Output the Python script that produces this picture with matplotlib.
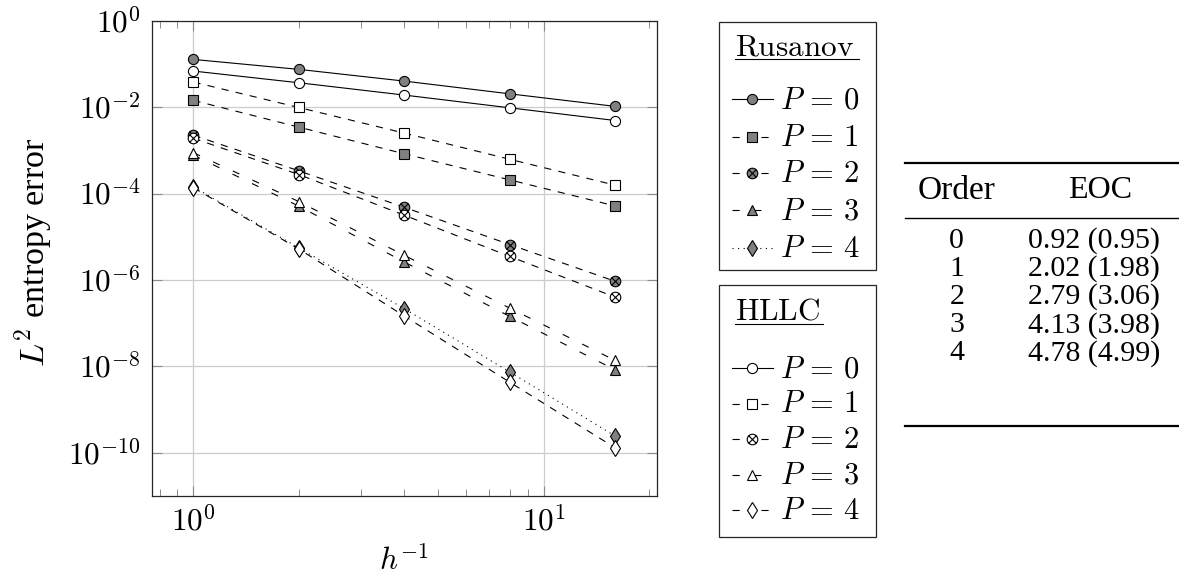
import numpy as np
import matplotlib
matplotlib.use("Agg")
import matplotlib.pyplot as plt
from matplotlib.path import Path
from matplotlib.ticker import FuncFormatter, LogLocator, NullLocator
from matplotlib.patches import Rectangle

plt.rcParams["font.family"] = ["Liberation Serif", "DejaVu Serif"]
plt.rcParams["mathtext.fontset"] = "cm"
plt.rcParams["lines.scale_dashes"] = False

# ---------------- data ----------------
h_inv = [1, 2, 4, 8, 16]

rusanov_p0 = [0.127, 0.0747, 0.040, 0.0203, 0.0104]
rusanov_p1 = [0.0143, 3.44e-3, 8.3e-4, 2.07e-4, 5.16e-5]
rusanov_p2 = [2.24e-3, 3.35e-4, 4.8e-5, 6.6e-6, 9.3e-7]
rusanov_p3 = [7.7e-4, 5.1e-5, 2.6e-6, 1.43e-7, 8.3e-9]
rusanov_p4 = [1.42e-4, 5.5e-6, 2.16e-7, 7.4e-9, 2.43e-10]

hllc_p0 = [0.0683, 0.0366, 0.019, 0.00963, 0.0049]
hllc_p1 = [0.038, 9.8e-3, 2.5e-3, 6.2e-4, 1.56e-4]
hllc_p2 = [1.9e-3, 2.75e-4, 3.15e-5, 3.5e-6, 4.0e-7]
hllc_p3 = [8.8e-4, 6.5e-5, 3.7e-6, 2.23e-7, 1.37e-8]
hllc_p4 = [1.36e-4, 5.2e-6, 1.46e-7, 4.3e-9, 1.3e-10]

series_labels = [r"$P\,=\,0$", r"$P\,=\,1$", r"$P\,=\,2$", r"$P\,=\,3$", r"$P\,=\,4$"]

y_ticks = [1e0, 1e-2, 1e-4, 1e-6, 1e-8, 1e-10]
y_limits = (1e-11, 1e0)
x_limits = (0.76, 21.1)

table_orders = ["0", "1", "2", "3", "4"]
table_eoc = ["0.92 (0.95)", "2.02 (1.98)", "2.79 (3.06)", "4.13 (3.98)", "4.78 (4.99)"]

# ---------------- styles ----------------
r = np.sqrt(0.5)
otimes = Path.make_compound_path(
    Path.unit_circle(),
    Path([(-r, -r), (r, r), (-r, r), (r, -r)],
         [Path.MOVETO, Path.LINETO, Path.MOVETO, Path.LINETO]),
)

GRAY = "0.5"
LW = 0.8
dashed = dict(linestyle=(0, (5.2, 5.2)))
loose = dict(linestyle=(0, (5.2, 10.4)))
dotted = dict(linestyle=(0, (0.8, 3.2)))
solid = dict(linestyle="-")

markers = [
    dict(marker="o", markersize=7.3),
    dict(marker="s", markersize=6.8),
    dict(marker=otimes, markersize=7.6),
    dict(marker="^", markersize=6.5),
    dict(marker="d", markersize=7.8),
]
rus_lines = [solid, dashed, dashed, loose, dotted]
hllc_lines = [solid, dashed, dashed, loose, dashed]


def style(i, filled, lines):
    st = dict(color="black", linewidth=LW, markeredgecolor="black",
              markeredgewidth=0.8, markerfacecolor=GRAY if filled else "white")
    st.update(markers[i])
    st.update(lines[i])
    return st


rus_styles = [style(i, True, rus_lines) for i in range(5)]
hllc_styles = [style(i, False, hllc_lines) for i in range(5)]

W, H = 1179, 586
fig = plt.figure(figsize=(W / 100, H / 100), dpi=100)
ax = fig.add_axes([151.7 / W, 1 - 496 / H, (657.3 - 151.7) / W, (496 - 20.7) / H])

for ys, st in zip([rusanov_p0, rusanov_p1, rusanov_p2, rusanov_p3, rusanov_p4], rus_styles):
    ax.plot(h_inv, ys, **st, zorder=3)
for ys, st in zip([hllc_p0, hllc_p1, hllc_p2, hllc_p3, hllc_p4], hllc_styles):
    ax.plot(h_inv, ys, **st, zorder=4)

ax.set_xscale("log")
ax.set_yscale("log")
ax.set_xlim(*x_limits)
ax.set_ylim(*y_limits)
ax.set_yticks(y_ticks)
ax.yaxis.set_minor_locator(NullLocator())
ax.xaxis.set_major_locator(LogLocator(base=10))
ax.xaxis.set_minor_locator(LogLocator(base=10, subs=np.arange(2, 10)))
fmt = FuncFormatter(lambda v, p: r"$10^{%d}$" % int(round(np.log10(v))))
ax.xaxis.set_major_formatter(fmt)
ax.yaxis.set_major_formatter(fmt)
ax.xaxis.set_minor_formatter(FuncFormatter(lambda v, p: ""))

ax.grid(True, which="major", color="0.8", linewidth=0.9)
ax.set_axisbelow(True)
ax.tick_params(which="both", direction="in", top=True, right=True, color="0.55",
               labelsize=22.5)
ax.tick_params(which="major", length=7, width=0.8, pad=8)
ax.tick_params(which="minor", length=5, width=0.7)
for s in ax.spines.values():
    s.set_linewidth(0.9)
    s.set_color("0.15")

ax.set_ylabel(r"$L^2$ entropy error", fontsize=24.5, va="center")
ax.yaxis.set_label_coords((33.5 - 151.7) / 505.6, (496 - 252) / 475.3)
ax.set_xlabel(r"$h^{-1}$", fontsize=22.5, va="center")
ax.xaxis.set_label_coords(0.5, (496 - 562) / 475.3)

# ---------------- overlay in pixel coordinates ----------------
ov = fig.add_axes([0, 0, 1, 1])
ov.set_xlim(0, W)
ov.set_ylim(H, 0)
ov.axis("off")


def legend_box(x0, y0, x1, y1, title, title_base, ul_x1, rows, styles):
    ov.add_patch(Rectangle((x0, y0), x1 - x0, y1 - y0, fill=False,
                           edgecolor="0.15", linewidth=0.9))
    ov.text(x0 + 16, y0 + title_base, r"$\mathrm{%s}$" % title, fontsize=22.5,
            ha="left", va="baseline")
    ov.plot([x0 + 16, x0 + ul_x1], [y0 + title_base + 4] * 2, color="black", lw=0.8)
    for lab, st, yy in zip(series_labels, styles, rows):
        ov.plot([x0 + 13, x0 + 32.5, x0 + 54], [y0 + yy] * 3, markevery=[1], **st)
        ov.text(x0 + 61, y0 + yy + 9, lab, fontsize=22, ha="left", va="baseline")


legend_box(719, 21.5, 875.5, 270, "Rusanov", 33.5, 139.5,
           [77.8, 115.8, 151.8, 188.5, 226.8], rus_styles)
legend_box(719, 285, 875.5, 536.5, "HLLC", 35, 104,
           [83, 118.5, 154, 189.5, 225], hllc_styles)

# ---------------- EOC table ----------------
tx0, tx1 = 905, 1179
ov.plot([tx0, tx1], [162.7, 162.7], color="black", lw=1.6)
ov.plot([tx0, tx1], [217.7, 217.7], color="black", lw=1.0)
ov.plot([tx0, tx1], [426, 426], color="black", lw=1.6)
ov.text(956.7, 191, "Order", fontsize=24, ha="center", va="center")
ov.text(1100, 191, "EOC", fontsize=23, ha="center", va="center")
for i, (o, e) in enumerate(zip(table_orders, table_eoc)):
    yy = 240.7 + i * 28.15
    ov.text(956.7, yy, o, fontsize=21.5, ha="center", va="center")
    ov.text(1094, yy, e, fontsize=21.5, ha="center", va="center")

fig.savefig("out.png", dpi=100)
